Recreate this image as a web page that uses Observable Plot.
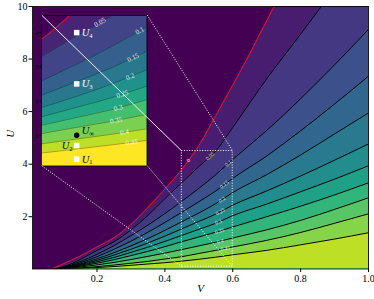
<!DOCTYPE html>
<html><head><meta charset="utf-8">
<script src="https://cdn.jsdelivr.net/npm/d3@7"></script>
<script src="https://cdn.jsdelivr.net/npm/@observablehq/plot@0.6"></script>
<style>
body{margin:0;background:#fff;}
#wrap{position:relative;width:374px;height:299px;}
#wrap svg{position:absolute;}
</style></head><body><div id="wrap"></div>
<script>
// ---- data ----
const V = [0.07, 0.1, 0.15, 0.2, 0.25, 0.3, 0.35, 0.4, 0.45, 0.5, 0.55, 0.6, 0.7, 0.8, 0.9, 1.0];
const levels = [0, 0.05, 0.1, 0.15, 0.2, 0.25, 0.3, 0.35, 0.4, 0.45, 0.5];
const U_000 = [0.03, 0.2, 0.5, 0.85, 1.2, 1.7, 2.35, 3.05, 3.8, 4.7, 5.85, 7.0, 9.45, 12.0, 14.8, 17.8];
const U_005 = [0, 0.09, 0.37, 0.72, 1.05, 1.5, 2.05, 2.69, 3.3, 3.91, 4.5, 5.4, 7.25, 8.95, 10.7, 12.6];
const U_010 = [0, 0.07, 0.29, 0.57, 0.9, 1.28, 1.68, 2.12, 2.59, 3.08, 3.6, 4.18, 5.28, 6.49, 7.78, 9.13];
const U_015 = [0, 0.06, 0.24, 0.48, 0.76, 1.07, 1.41, 1.78, 2.17, 2.57, 2.98, 3.46, 4.31, 5.27, 6.29, 7.35];
const U_020 = [0, 0.05, 0.2, 0.4, 0.63, 0.89, 1.17, 1.48, 1.81, 2.14, 2.5, 2.92, 3.6, 4.35, 5.15, 5.95];
const U_025 = [0, 0.04, 0.17, 0.34, 0.54, 0.76, 1.0, 1.26, 1.54, 1.82, 2.1, 2.44, 2.98, 3.55, 4.15, 4.77];
const U_030 = [0, 0.035, 0.145, 0.285, 0.45, 0.64, 0.84, 1.06, 1.29, 1.52, 1.75, 2.04, 2.48, 2.95, 3.43, 3.94];
const U_035 = [0, 0.028, 0.117, 0.23, 0.365, 0.52, 0.68, 0.86, 1.05, 1.23, 1.41, 1.61, 2.0, 2.4, 2.83, 3.29];
const U_040 = [0, 0.02, 0.084, 0.166, 0.26, 0.37, 0.49, 0.615, 0.75, 0.89, 1.03, 1.19, 1.5, 1.86, 2.28, 2.72];
const U_045 = [0, 0.012, 0.05, 0.1, 0.16, 0.23, 0.3, 0.39, 0.48, 0.6, 0.72, 0.85, 1.1, 1.4, 1.75, 2.11];
const U_050 = [0, 0.008, 0.033, 0.065, 0.104, 0.15, 0.2, 0.25, 0.31, 0.38, 0.46, 0.55, 0.72, 0.93, 1.15, 1.39];
const curves = [U_000, U_005, U_010, U_015, U_020, U_025, U_030, U_035, U_040, U_045, U_050];

const xTicks = [0.2, 0.4, 0.6, 0.8, 1.0];
const yTicks = [2, 4, 6, 8, 10];
const insetTicks = [1, 2, 3, 4];
const insetV = [0.45, 0.6];      // zoomed region
const insetU = [0.1, 4.5];
const insetBoxV = [0.037, 0.348]; // where the inset sits, in main axes units
const insetBoxU = [3.94, 9.67];

const mainLabelLevel = [0, 1, 2, 3, 4, 5, 6, 7, 8, 9];
const mainLabelV = [0.469, 0.533, 0.587, 0.575, 0.568, 0.563, 0.558, 0.561, 0.563, 0.578];
const insetLabelLevel = [1, 2, 3, 4, 5, 6, 7, 8, 9];
const insetLabelV = [0.533, 0.5895, 0.58, 0.576, 0.565, 0.559, 0.556, 0.568, 0.578];

const markerNames = ["1", "2", "∞", "3", "4"];
const markerV = [0.5, 0.5, 0.5, 0.5, 0.5];
const markerU = [0.3, 0.7, 1.0, 2.5, 4.0];

// ---- styling ----
const W = 374, H = 299, mL = 32, mR = 6, mT = 6, mB = 30.5;
const xDom = [0.01, 1], yDom = [0.01, 10];
const serif = "Liberation Serif, DejaVu Serif, serif";
const mainColor = k => d3.interpolateViridis(k * 0.9 / 11);
const insetColor = k => d3.interpolateViridis(k / 10);

function interp(c, v) {
  let i = 0;
  while (i < V.length - 2 && V[i + 1] < v) i++;
  const s = (c[i + 1] - c[i]) / (V[i + 1] - V[i]);
  return [c[i] + (v - V[i]) * s, s];
}
function labelRows(vs, lv, kx, ky) {
  return vs.map((v, j) => {
    const k = lv[j];
    const [u, s] = interp(curves[k], v);
    return {v, u, t: String(levels[k]), r: -Math.atan(s * ky / kx) * 180 / Math.PI};
  });
}

const wrap = document.getElementById("wrap");

// ---- main axes ----
const kxM = (W - mL - mR) / (xDom[1] - xDom[0]);
const kyM = (H - mT - mB) / (yDom[1] - yDom[0]);
const mainMarks = [Plot.frame({fill: mainColor(0)})];
curves.forEach((c, k) => mainMarks.push(Plot.areaY(V, {x: d => d, y1: 0, y2: (d, i) => c[i], fill: mainColor(k + 1), curve: "monotone-x", clip: true})));
curves.forEach((c, k) => mainMarks.push(Plot.lineY(V, {x: d => d, y: (d, i) => c[i], stroke: k === 0 ? "#ee1122" : "black", strokeWidth: 1, curve: "monotone-x", clip: true})));
mainMarks.push(
  Plot.text(labelRows(mainLabelV, mainLabelLevel, kxM, kyM), {x: "v", y: "u", text: "t", rotate: "r", fill: "white", fillOpacity: 0.9, fontSize: 5.5, fontFamily: serif}),
  Plot.rect([0], {x1: insetV[0], x2: insetV[1], y1: insetU[0], y2: insetU[1], fill: "none", stroke: "white", strokeWidth: 1, strokeDasharray: "1,1.6"}),
  Plot.axisX(xTicks, {tickSize: 3.5, tickPadding: 2, tickFormat: d => d.toFixed(1), fontSize: 10, fontFamily: serif, label: null}),
  Plot.axisY(yTicks, {tickSize: 3.5, tickPadding: 1.5, tickFormat: d => String(d), fontSize: 10, fontFamily: serif, label: null}),
  Plot.text(["V"], {frameAnchor: "bottom", dy: 19, text: d => d, fontStyle: "italic", fontSize: 11, fontFamily: serif, lineAnchor: "middle"}),
  Plot.text(["U"], {frameAnchor: "left", dx: -22, text: d => d, fontStyle: "italic", fontSize: 11, fontFamily: serif, rotate: -90}),
  Plot.frame({stroke: "black", strokeWidth: 0.8})
);
const main = Plot.plot({
  width: W, height: H, marginLeft: mL, marginRight: mR, marginTop: mT, marginBottom: mB,
  x: {domain: xDom}, y: {domain: yDom},
  style: {fontFamily: serif, fontSize: "10px", background: "transparent", overflow: "visible"},
  marks: mainMarks
});
main.style.left = "0px"; main.style.top = "0px";
wrap.appendChild(main);

// ---- inset axes ----
const xs = main.scale("x"), ys = main.scale("y");
const iL = xs.apply(insetBoxV[0]), iR = xs.apply(insetBoxV[1]);
const iT = ys.apply(insetBoxU[1]), iB = ys.apply(insetBoxU[0]);
const iw = iR - iL, ih = iB - iT, iml = 12;
const kxI = iw / (insetV[1] - insetV[0]);
const kyI = ih / (insetU[1] - insetU[0]);
const insetMarks = [Plot.frame({fill: insetColor(0)})];
curves.slice(0, 10).forEach((c, k) => insetMarks.push(Plot.areaY(V, {x: d => d, y1: 0, y2: (d, i) => c[i], fill: insetColor(k + 1), curve: "monotone-x", clip: true})));
curves.slice(0, 10).forEach((c, k) => insetMarks.push(Plot.lineY(V, {x: d => d, y: (d, i) => c[i], stroke: k === 0 ? "#ee1122" : "black", strokeOpacity: k === 0 ? 1 : 0.55, strokeWidth: k === 0 ? 1 : 0.6, curve: "monotone-x", clip: true})));
const mk = markerNames.map((n, i) => ({n, v: markerV[i], u: markerU[i]}));
const sq = mk.filter(d => d.n !== "∞"), inf = mk.filter(d => d.n === "∞");
const labDx = {"1": 5, "2": -15, "∞": 5, "3": 5, "4": 5};
const labDy = {"1": 0, "2": 0, "∞": -5, "3": 0, "4": 0};
const labCol = {"1": "black", "2": "black", "∞": "black", "3": "white", "4": "white"};
insetMarks.push(
  Plot.text(labelRows(insetLabelV, insetLabelLevel, kxI, kyI), {x: "v", y: "u", text: "t", rotate: "r", fill: "white", fillOpacity: 0.9, fontSize: 7, fontFamily: serif}),
  Plot.dot(sq, {x: "v", y: "u", symbol: "square", r: 3.1, fill: "white", stroke: "none"}),
  Plot.dot(inf, {x: "v", y: "u", r: 2.7, fill: "black", stroke: "none"})
);
mk.forEach(d => {
  insetMarks.push(
    Plot.text([d], {x: "v", y: "u", text: () => "U", dx: labDx[d.n], dy: labDy[d.n], textAnchor: "start", fontStyle: "italic", fontSize: 10.5, fontFamily: serif, fill: labCol[d.n]}),
    Plot.text([d], {x: "v", y: "u", text: "n", dx: labDx[d.n] + 7.5, dy: labDy[d.n] + 3, textAnchor: "start", fontSize: d.n === "∞" ? 7 : 6.5, fontFamily: serif, fill: labCol[d.n]})
  );
});
insetMarks.push(
  Plot.axisY(insetTicks, {tickSize: 2, tickPadding: 1, fontSize: 7, fontFamily: serif, tickFormat: d => String(d), label: null}),
  Plot.frame({stroke: "black", strokeWidth: 0.8})
);
const inset = Plot.plot({
  width: iw + iml, height: ih, marginLeft: iml, marginRight: 0, marginTop: 0, marginBottom: 0,
  x: {domain: insetV, axis: null}, y: {domain: insetU},
  style: {fontFamily: serif, fontSize: "7px", background: "transparent", overflow: "visible"},
  marks: insetMarks
});
inset.style.left = (iL - iml) + "px"; inset.style.top = iT + "px";
wrap.appendChild(inset);

// ---- connectors ----
const conn = [
  {x1: insetBoxV[0], y1: insetBoxU[1], x2: insetV[0], y2: insetU[1], solid: true},
  {x1: insetBoxV[1], y1: insetBoxU[1], x2: insetV[1], y2: insetU[1], solid: false},
  {x1: insetBoxV[0], y1: insetBoxU[0], x2: insetV[0], y2: insetU[0], solid: false},
  {x1: insetBoxV[1], y1: insetBoxU[0], x2: insetV[1], y2: insetU[0], solid: false}
];
const overlay = Plot.plot({
  width: W, height: H, marginLeft: mL, marginRight: mR, marginTop: mT, marginBottom: mB,
  x: {domain: xDom}, y: {domain: yDom}, axis: null,
  style: {background: "transparent", overflow: "visible"},
  marks: [
    Plot.link(conn.filter(d => d.solid), {x1: "x1", y1: "y1", x2: "x2", y2: "y2", stroke: "white", strokeWidth: 1, strokeOpacity: 0.9}),
    Plot.link(conn.filter(d => !d.solid), {x1: "x1", y1: "y1", x2: "x2", y2: "y2", stroke: "white", strokeWidth: 1, strokeDasharray: "1,1.6"})
  ]
});
overlay.style.left = "0px"; overlay.style.top = "0px"; overlay.style.pointerEvents = "none";
wrap.appendChild(overlay);
</script></body></html>
